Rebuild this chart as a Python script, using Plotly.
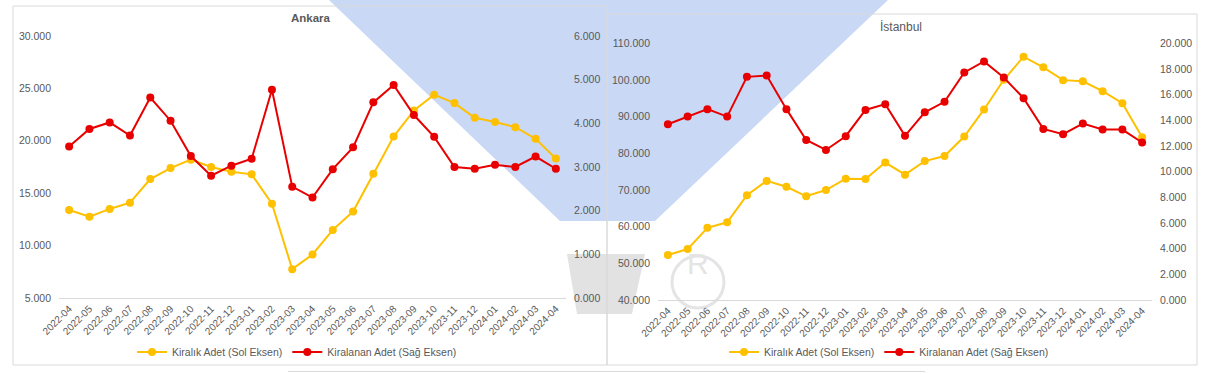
import plotly.graph_objects as go

W, H = 1209, 374

months = ["2022-04", "2022-05", "2022-06", "2022-07", "2022-08", "2022-09", "2022-10",
          "2022-11", "2022-12", "2023-01", "2023-02", "2023-03", "2023-04", "2023-05",
          "2023-06", "2023-07", "2023-08", "2023-09", "2023-10", "2023-11", "2023-12",
          "2024-01", "2024-02", "2024-03", "2024-04"]

ankara_kiralik = [13400, 12750, 13500, 14100, 16350, 17400, 18200, 17500, 17050, 16800,
                  14000, 7750, 9150, 11500, 13250, 16850, 20400, 22900, 24400, 23600,
                  22200, 21800, 21300, 20200, 18300]
ankara_kiralanan = [3470, 3870, 4020, 3720, 4590, 4060, 3250, 2800, 3030, 3190,
                    4770, 2550, 2300, 2950, 3450, 4480, 4880, 4190, 3690, 3000,
                    2960, 3050, 3000, 3240, 2960]

istanbul_kiralik = [52300, 53900, 59700, 61200, 68600, 72500, 70900, 68300, 70000, 73100,
                    73000, 77500, 74200, 77900, 79300, 84600, 92000, 100100, 106400, 103500,
                    100000, 99700, 97000, 93700, 84400]
istanbul_kiralanan = [13700, 14300, 14880, 14300, 17400, 17500, 14880, 12480, 11700, 12770,
                      14820, 15270, 12800, 14640, 15450, 17740, 18600, 17350, 15740, 13340,
                      12930, 13760, 13290, 13290, 12280]

ankara_left_vals = [5000, 10000, 15000, 20000, 25000, 30000]
ankara_left_text = ["5.000", "10.000", "15.000", "20.000", "25.000", "30.000"]
ankara_right_vals = [0, 1000, 2000, 3000, 4000, 5000, 6000]
ankara_right_text = ["0.000", "1.000", "2.000", "3.000", "4.000", "5.000", "6.000"]

istanbul_left_vals = [40000, 50000, 60000, 70000, 80000, 90000, 100000, 110000]
istanbul_left_text = ["40.000", "50.000", "60.000", "70.000", "80.000", "90.000", "100.000", "110.000"]
istanbul_right_vals = [0, 2000, 4000, 6000, 8000, 10000, 12000, 14000, 16000, 18000, 20000]
istanbul_right_text = ["0.000", "2.000", "4.000", "6.000", "8.000", "10.000", "12.000",
                       "14.000", "16.000", "18.000", "20.000"]

series_names = ["Kiralık Adet (Sol Eksen)", "Kiralanan Adet (Sağ Eksen)"]
titles = ["Ankara", "İstanbul"]

YELLOW = "#FFC000"
RED = "#E80000"
GRAY_TXT = "#595959"
FONT = "Liberation Sans, Arial, sans-serif"


def px(x):
    return x / W


def py(y):
    return 1 - y / H


fig = go.Figure()

fig.add_trace(go.Scatter(x=months, y=ankara_kiralik, name=series_names[0], mode="lines+markers",
                         line=dict(color=YELLOW, width=2), marker=dict(color=YELLOW, size=8),
                         xaxis="x", yaxis="y", legend="legend"))
fig.add_trace(go.Scatter(x=months, y=ankara_kiralanan, name=series_names[1], mode="lines+markers",
                         line=dict(color=RED, width=2), marker=dict(color=RED, size=8),
                         xaxis="x", yaxis="y2", legend="legend"))
fig.add_trace(go.Scatter(x=months, y=istanbul_kiralik, name=series_names[0], mode="lines+markers",
                         line=dict(color=YELLOW, width=2), marker=dict(color=YELLOW, size=8),
                         xaxis="x2", yaxis="y3", legend="legend2"))
fig.add_trace(go.Scatter(x=months, y=istanbul_kiralanan, name=series_names[1], mode="lines+markers",
                         line=dict(color=RED, width=2), marker=dict(color=RED, size=8),
                         xaxis="x2", yaxis="y4", legend="legend2"))

tickfont = dict(family=FONT, size=10.5, color=GRAY_TXT)
xcommon = dict(type="category", range=[-0.5, len(months) - 0.5], tickangle=-45,
               showgrid=False, zeroline=False, showline=True, linecolor="#D9D9D9",
               linewidth=1, tickfont=dict(family=FONT, size=10, color=GRAY_TXT),
               ticks="", fixedrange=True, automargin=False)
ycommon = dict(showgrid=False, zeroline=False, showline=False, tickfont=tickfont,
               ticklabelstandoff=7, fixedrange=True, automargin=False)

legfont = dict(family=FONT, size=10.5, color=GRAY_TXT)

fig.update_layout(
    width=W, height=H, autosize=False,
    margin=dict(l=0, r=0, t=0, b=0, pad=0),
    paper_bgcolor="white", plot_bgcolor="rgba(0,0,0,0)",
    font=dict(family=FONT, color=GRAY_TXT),
    hovermode=False,
    xaxis=dict(domain=[px(59), px(566)], anchor="y", **xcommon),
    yaxis=dict(domain=[py(298), py(36)], anchor="x", range=[5000, 30000],
               tickvals=ankara_left_vals, ticktext=ankara_left_text, **ycommon),
    yaxis2=dict(overlaying="y", side="right", anchor="x", range=[0, 6000],
                domain=[py(298), py(36)],
                tickvals=ankara_right_vals, ticktext=ankara_right_text, **ycommon),
    xaxis2=dict(domain=[px(658), px(1152)], anchor="y3", **xcommon),
    yaxis3=dict(domain=[py(300), py(43.5)], anchor="x2", range=[40000, 110000],
                tickvals=istanbul_left_vals, ticktext=istanbul_left_text, **ycommon),
    yaxis4=dict(overlaying="y3", side="right", anchor="x2", range=[0, 20000],
                domain=[py(300), py(43.5)],
                tickvals=istanbul_right_vals, ticktext=istanbul_right_text, **ycommon),
    legend=dict(orientation="h", x=px(132), xanchor="left", y=py(352), yanchor="middle",
                font=legfont, bgcolor="rgba(0,0,0,0)", itemwidth=30, tracegroupgap=0),
    legend2=dict(orientation="h", x=px(724), xanchor="left", y=py(352), yanchor="middle",
                 font=legfont, bgcolor="rgba(0,0,0,0)", itemwidth=30, tracegroupgap=0),
    showlegend=True,
)

# Titles
fig.add_annotation(text="<b>" + titles[0] + "</b>", x=px(311), y=py(18), xref="paper", yref="paper",
                   showarrow=False, font=dict(family=FONT, size=11.5, color=GRAY_TXT),
                   xanchor="center", yanchor="middle")
fig.add_annotation(text=titles[1], x=px(901), y=py(27), xref="paper", yref="paper",
                   showarrow=False, font=dict(family=FONT, size=12, color=GRAY_TXT),
                   xanchor="center", yanchor="middle")

# Background watermark band
band = [(329, 0), (560, 221), (655, 221), (888, 0)]
path = "M " + " L ".join(f"{px(a):.4f},{py(b):.4f}" for a, b in band) + " Z"
fig.add_shape(type="path", path=path, xref="paper", yref="paper", layer="below",
              fillcolor="rgb(201,216,245)", line=dict(width=0))
gray = [(567, 254), (645, 254), (632, 314), (577, 314)]
path2 = "M " + " L ".join(f"{px(a):.4f},{py(b):.4f}" for a, b in gray) + " Z"
fig.add_shape(type="path", path=path2, xref="paper", yref="paper", layer="below",
              fillcolor="rgb(226,226,226)", line=dict(width=0))
fig.add_shape(type="circle", xref="paper", yref="paper", layer="below",
              x0=px(672), x1=px(724), y0=py(308), y1=py(256),
              line=dict(color="rgb(228,228,228)", width=3))
fig.add_annotation(text="R", x=px(698), y=py(282), xref="paper", yref="paper", showarrow=False,
                   font=dict(family=FONT, size=30, color="rgb(228,228,228)"))

# Chart frames
fig.add_shape(type="rect", xref="paper", yref="paper", x0=px(13), x1=px(607), y0=py(365), y1=py(6),
              line=dict(color="#D9D9D9", width=1), layer="below")
fig.add_shape(type="rect", xref="paper", yref="paper", x0=px(607), x1=px(1197), y0=py(365), y1=py(14),
              line=dict(color="#D9D9D9", width=1), layer="below")
fig.add_shape(type="line", xref="paper", yref="paper", x0=px(288), x1=px(925), y0=py(371.5), y1=py(371.5),
              line=dict(color="#D9D9D9", width=1), layer="below")

fig.write_html("out.html",
               config={"displayModeBar": False, "staticPlot": True},
               post_script="document.body.style.margin='0px';document.body.style.overflow='hidden';")
